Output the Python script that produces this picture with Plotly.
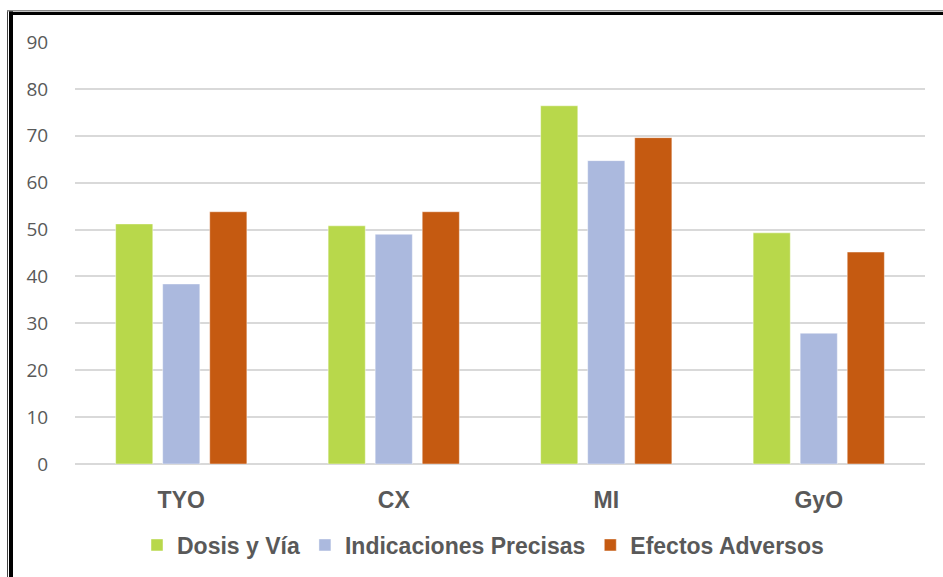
import plotly.graph_objects as go

categories = ["TYO", "CX", "MI", "GyO"]
dosis_via = [51.2, 50.8, 76.4, 49.3]
indicaciones_precisas = [38.4, 49.0, 64.7, 27.9]
efectos_adversos = [53.8, 53.8, 69.6, 45.2]
series_names = ["Dosis y Vía", "Indicaciones Precisas", "Efectos Adversos"]
y_ticks = [0, 10, 20, 30, 40, 50, 60, 70, 80, 90]

W, H = 943, 577
L, R, T, B = 75, 18, 42, 112
PW, PH = W - L - R, H - T - B

def px_x(p):
    return (p - L) / PW

def px_y(p):
    return (H - B - p) / PH

colors = ["#B8D84B", "#ABB9DE", "#C55A11"]
fig = go.Figure()
for name, vals, c in zip(series_names, [dosis_via, indicaciones_precisas, efectos_adversos], colors):
    fig.add_trace(go.Bar(
        x=categories, y=vals, name=name,
        marker=dict(color=c, line=dict(color="rgba(255,255,255,0.45)", width=1)),
    ))

shapes = [
    dict(type="line", xref="paper", yref="paper", x0=px_x(11), x1=px_x(11), y0=px_y(11), y1=px_y(600),
         line=dict(color="black", width=4)),
    dict(type="line", xref="paper", yref="paper", x0=px_x(7.5), x1=px_x(7.5), y0=px_y(10), y1=px_y(600),
         line=dict(color="#444444", width=1)),
    dict(type="line", xref="paper", yref="paper", x0=px_x(9), x1=px_x(960), y0=px_y(13.5), y1=px_y(13.5),
         line=dict(color="black", width=3)),
    dict(type="line", xref="paper", yref="paper", x0=px_x(7), x1=px_x(960), y0=px_y(10.8), y1=px_y(10.8),
         line=dict(color="#888888", width=1.5)),
]

fig.update_layout(
    width=W, height=H,
    margin=dict(l=L, r=R, t=T, b=B, pad=0),
    paper_bgcolor="white", plot_bgcolor="white",
    barmode="group", bargap=0.336, bargroupgap=0.21,
    shapes=shapes,
    showlegend=True,
    legend=dict(orientation="h", x=0.48, xanchor="center", y=px_y(545), yanchor="middle",
                font=dict(family="Liberation Sans, Arial, sans-serif", size=23, color="#595959", weight="bold"),
                itemwidth=30, traceorder="normal"),
    xaxis=dict(
        tickfont=dict(family="Liberation Sans, Arial, sans-serif", size=23, color="#595959", weight="bold"),
        showgrid=False, showline=False, zeroline=False,
        ticks="outside", ticklen=15, tickcolor="rgba(0,0,0,0)",
    ),
    yaxis=dict(
        range=[0, 90], tickvals=y_ticks,
        tickfont=dict(family="Open Sans, sans-serif", size=19, color="#595959"),
        showgrid=True, gridcolor="#D9D9D9", gridwidth=1.5,
        zeroline=True, zerolinecolor="#D9D9D9", zerolinewidth=1.5,
        showline=False,
        ticks="outside", ticklen=22, tickcolor="rgba(0,0,0,0)",
    ),
)

fig.write_html("out.html")
